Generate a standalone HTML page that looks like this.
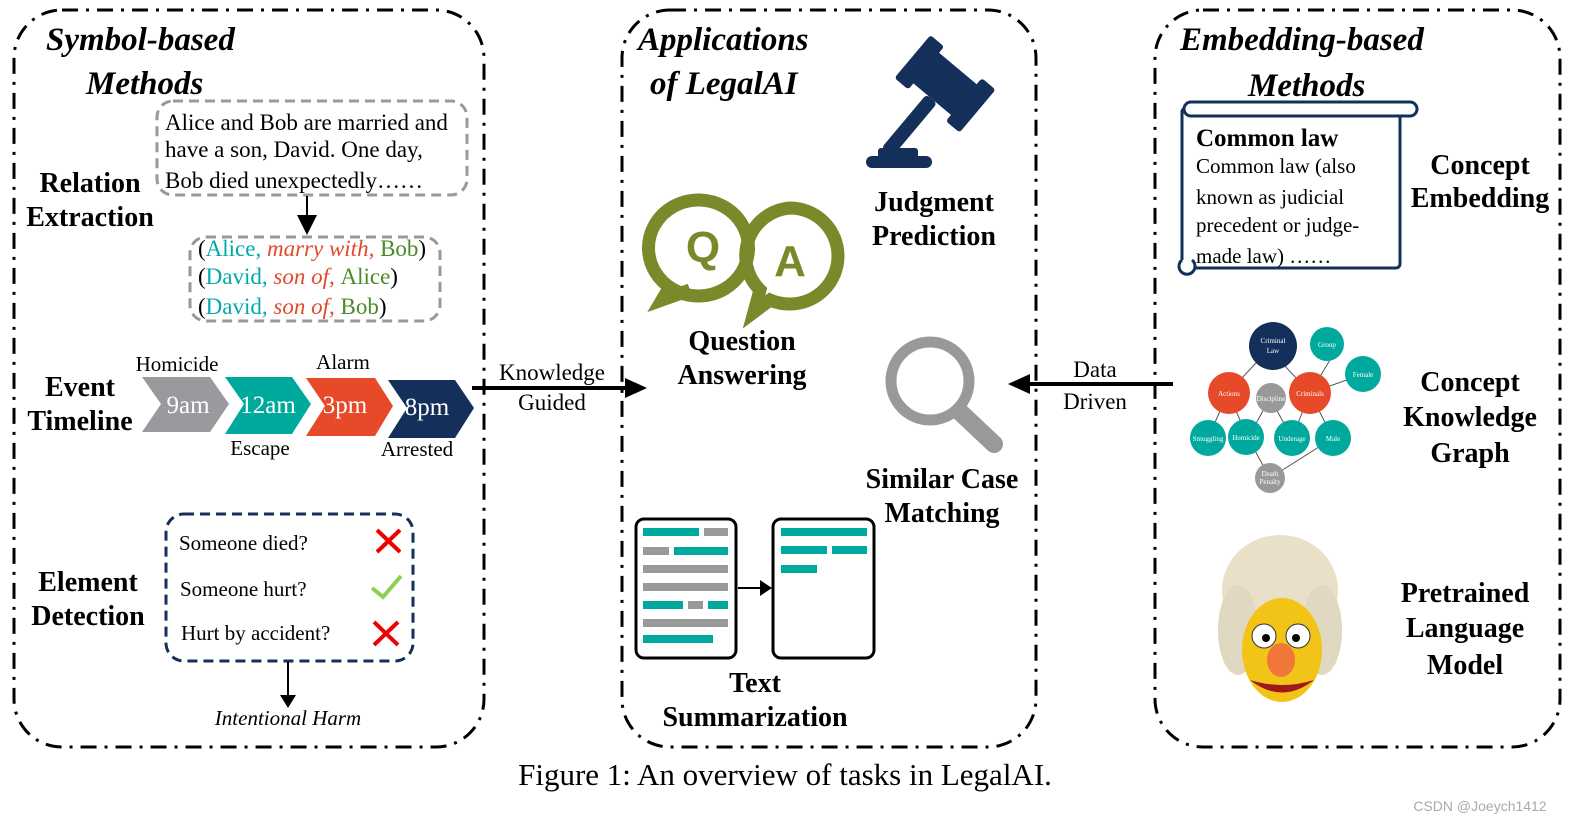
<!DOCTYPE html>
<html><head><meta charset="utf-8"><style>body{margin:0;background:#fff}svg{display:block}</style></head><body>
<svg width="1588" height="834" viewBox="0 0 1588 834" xmlns="http://www.w3.org/2000/svg" font-family="Liberation Serif, serif">
<defs><marker id="ah" markerWidth="10" markerHeight="10" refX="8" refY="5" orient="auto" markerUnits="userSpaceOnUse"><path d="M0,0 L10,5 L0,10z" fill="#000"/></marker></defs>
<g fill="none" stroke="#000" stroke-width="3" stroke-dasharray="16,8,3,8">
<rect x="14" y="10" width="470" height="737" rx="48"/>
<rect x="622" y="10" width="414" height="737" rx="48"/>
<rect x="1155" y="10" width="405" height="737" rx="48"/>
</g>
<!-- Left panel -->
<g font-weight="bold" font-style="italic" font-size="33" fill="#000">
<text x="46" y="50">Symbol-based</text><text x="86" y="94">Methods</text>
<text x="638" y="50">Applications</text><text x="650" y="94">of LegalAI</text>
<text x="1180" y="50">Embedding-based</text><text x="1248" y="96">Methods</text>
</g>
<g font-weight="bold" font-size="28" fill="#000" text-anchor="middle">
<text x="90" y="192">Relation</text><text x="90" y="226">Extraction</text>
<text x="80" y="396">Event</text><text x="80" y="430">Timeline</text>
<text x="88" y="591">Element</text><text x="88" y="625">Detection</text>
<text x="934" y="211">Judgment</text><text x="934" y="245">Prediction</text>
<text x="742" y="350">Question</text><text x="742" y="384">Answering</text>
<text x="942" y="488">Similar Case</text><text x="942" y="522">Matching</text>
<text x="755" y="692">Text</text><text x="755" y="726">Summarization</text>
<text x="1480" y="174">Concept</text><text x="1480" y="207">Embedding</text>
<text x="1470" y="391">Concept</text><text x="1470" y="426">Knowledge</text><text x="1470" y="462">Graph</text>
<text x="1465" y="602">Pretrained</text><text x="1465" y="637">Language</text><text x="1465" y="674">Model</text>
</g>
<rect x="157" y="101" width="310" height="94" rx="16" fill="none" stroke="#999" stroke-width="3" stroke-dasharray="10,6"/>
<g font-size="23" fill="#000"><text x="165" y="130">Alice and Bob are married and</text><text x="165" y="157">have a son, David. One day,</text><text x="165" y="188">Bob died unexpectedly……</text></g>
<line x1="307" y1="196" x2="307" y2="225" stroke="#000" stroke-width="2"/><path d="M297,215 L317,215 L307,235z" fill="#000"/>
<rect x="190" y="237" width="250" height="84" rx="16" fill="none" stroke="#999" stroke-width="3" stroke-dasharray="10,6"/>
<g font-size="23">
<text x="198" y="256"><tspan fill="#000">(</tspan><tspan fill="#0aa">Alice, </tspan><tspan fill="#e04a2a" font-style="italic">marry with, </tspan><tspan fill="#4a8a2a">Bob</tspan><tspan fill="#000">)</tspan></text>
<text x="198" y="284"><tspan fill="#000">(</tspan><tspan fill="#0aa">David, </tspan><tspan fill="#e04a2a" font-style="italic">son of, </tspan><tspan fill="#4a8a2a">Alice</tspan><tspan fill="#000">)</tspan></text>
<text x="198" y="314"><tspan fill="#000">(</tspan><tspan fill="#0aa">David, </tspan><tspan fill="#e04a2a" font-style="italic">son of, </tspan><tspan fill="#4a8a2a">Bob</tspan><tspan fill="#000">)</tspan></text>
</g>
<path d="M142,377 L210,377 L229,404 L210,432 L142,432 L161,404z" fill="#999a9e"/>
<path d="M225,377 L292,377 L311,404 L292,434 L225,434 L244,404z" fill="#00a99d"/>
<path d="M306,378 L375,378 L393,406 L375,436 L306,436 L325,406z" fill="#e64a28"/>
<path d="M388,380 L455,380 L474,408 L455,438 L388,438 L407,408z" fill="#14305a"/>
<g font-size="25" fill="#fff" text-anchor="middle"><text x="188" y="413">9am</text><text x="268" y="413">12am</text><text x="345" y="413">3pm</text><text x="427" y="415">8pm</text></g>
<g font-size="21" fill="#000" text-anchor="middle"><text x="177" y="371">Homicide</text><text x="343" y="369">Alarm</text><text x="260" y="455">Escape</text><text x="417" y="456">Arrested</text></g>
<rect x="166" y="514" width="247" height="147" rx="18" fill="none" stroke="#14305a" stroke-width="3" stroke-dasharray="10,6"/>
<g font-size="21" fill="#000"><text x="179" y="550">Someone died?</text><text x="180" y="596">Someone hurt?</text><text x="181" y="640">Hurt by accident?</text></g>
<g stroke="#e00" stroke-width="4"><path d="M377,530 L400,552 M400,530 L377,552"/><path d="M374,622 L398,645 M398,622 L374,645"/></g>
<path d="M372,588 L383,597 L401,576" stroke="#8cd050" stroke-width="4" fill="none"/>
<line x1="288" y1="662" x2="288" y2="698" stroke="#000" stroke-width="2"/><path d="M280,695 L296,695 L288,708z" fill="#000"/>
<text x="288" y="725" font-size="21" font-style="italic" text-anchor="middle">Intentional Harm</text>
<!-- arrows -->
<line x1="472" y1="388" x2="635" y2="388" stroke="#000" stroke-width="4"/><path d="M625,378 L647,388 L625,398z" fill="#000"/>
<g font-size="23" text-anchor="middle"><text x="552" y="380">Knowledge</text><text x="552" y="410">Guided</text><text x="1095" y="377">Data</text><text x="1095" y="409">Driven</text></g>
<line x1="1173" y1="384" x2="1020" y2="384" stroke="#000" stroke-width="4"/><path d="M1030,374 L1008,384 L1030,394z" fill="#000"/>
<!-- gavel -->
<g fill="#14305a"><g transform="rotate(40 935 95)"><rect x="900" y="60" width="70" height="40" rx="3"/><rect x="893" y="52" width="18" height="56" rx="3"/><rect x="960" y="52" width="18" height="56" rx="3"/><rect x="928" y="100" width="14" height="70" rx="4"/></g>
<rect x="866" y="156" width="66" height="12" rx="6"/><rect x="878" y="148" width="40" height="10" rx="3"/></g>
<!-- QA -->
<g fill="none" stroke="#7a8a2a" stroke-width="13">
<path d="M700,200 a50,48 0 1 1 -3,0z M672,283 L662,300 L690,290"/>
<path d="M790,208 a48,48 0 1 1 0,96 a48,48 0 0 1 -20,-4 L754,312 L760,290 a48,48 0 0 1 30,-82z"/>
</g>
<g fill="#7a8a2a" font-family="Liberation Sans, sans-serif" font-weight="bold" font-size="44" text-anchor="middle"><text x="703" y="262">Q</text><text x="790" y="276">A</text></g>
<!-- magnifier -->
<circle cx="930" cy="381" r="39" fill="none" stroke="#999" stroke-width="11"/>
<line x1="960" y1="412" x2="994" y2="444" stroke="#999" stroke-width="18" stroke-linecap="round"/>
<!-- docs -->
<rect x="636" y="519" width="100" height="139" rx="8" fill="#fff" stroke="#000" stroke-width="3"/>
<rect x="773" y="519" width="101" height="139" rx="8" fill="#fff" stroke="#000" stroke-width="3"/>
<g fill="#00a99d"><rect x="643" y="528" width="56" height="8"/><rect x="674" y="547" width="54" height="8"/><rect x="643" y="601" width="40" height="8"/><rect x="708" y="601" width="20" height="8"/><rect x="643" y="635" width="70" height="8"/><rect x="781" y="528" width="86" height="8"/><rect x="781" y="546" width="46" height="8"/><rect x="832" y="546" width="35" height="8"/><rect x="781" y="565" width="36" height="8"/></g>
<g fill="#999"><rect x="704" y="528" width="24" height="8"/><rect x="643" y="547" width="26" height="8"/><rect x="643" y="565" width="85" height="8"/><rect x="643" y="583" width="85" height="8"/><rect x="688" y="601" width="15" height="8"/><rect x="643" y="619" width="85" height="8"/></g>
<line x1="738" y1="588" x2="762" y2="588" stroke="#000" stroke-width="2"/><path d="M760,580 L772,588 L760,596z" fill="#000"/>
<!-- scroll -->
<g fill="#fff" stroke="#14305a" stroke-width="3">
<rect x="1182" y="108" width="218" height="160" rx="4"/>
<rect x="1184" y="102" width="233" height="14" rx="7"/>
<path d="M1182,260 a8,8 0 1 0 10,0"/>
</g>
<text x="1196" y="146" font-size="25" font-weight="bold">Common law</text>
<g font-size="21"><text x="1196" y="173">Common law (also</text><text x="1196" y="204">known as judicial</text><text x="1196" y="232">precedent or judge-</text><text x="1196" y="263">made law) ……</text></g>
<!-- graph -->
<g stroke="#555" stroke-width="1"><path d="M1268,350 L1228,393 M1270,350 L1310,393 M1330,360 L1310,393 M1358,376 L1310,393 M1228,393 L1208,438 M1228,393 L1248,438 M1270,398 L1248,438 M1270,398 L1292,438 M1310,393 L1292,438 M1310,393 L1333,438 M1248,438 L1270,478 M1333,438 L1270,478"/></g>
<g font-size="7" fill="#fff" text-anchor="middle">
<circle cx="1273" cy="346" r="24" fill="#14305a"/><text x="1273" y="343">Criminal</text><text x="1273" y="353">Law</text>
<circle cx="1327" cy="344" r="17" fill="#00a99d"/><text x="1327" y="347">Group</text>
<circle cx="1363" cy="374" r="18" fill="#00a99d"/><text x="1363" y="377">Female</text>
<circle cx="1229" cy="393" r="21" fill="#e64a28"/><text x="1229" y="396">Actions</text>
<circle cx="1271" cy="398" r="15" fill="#999"/><text x="1271" y="401">Discipline</text>
<circle cx="1310" cy="393" r="21" fill="#e64a28"/><text x="1310" y="396">Criminals</text>
<circle cx="1208" cy="438" r="18" fill="#00a99d"/><text x="1208" y="441">Smuggling</text>
<circle cx="1246" cy="437" r="18" fill="#00a99d"/><text x="1246" y="440">Homicide</text>
<circle cx="1292" cy="438" r="18" fill="#00a99d"/><text x="1292" y="441">Underage</text>
<circle cx="1333" cy="438" r="18" fill="#00a99d"/><text x="1333" y="441">Male</text>
<circle cx="1270" cy="478" r="15" fill="#999"/><text x="1270" y="476">Death</text><text x="1270" y="484">Penalty</text>
</g>
<!-- muppet -->
<ellipse cx="1280" cy="590" rx="58" ry="55" fill="#e8e0c8"/>
<ellipse cx="1238" cy="630" rx="20" ry="45" fill="#e0d8c0"/>
<ellipse cx="1322" cy="630" rx="20" ry="45" fill="#e0d8c0"/>
<ellipse cx="1282" cy="650" rx="40" ry="52" fill="#f2c418"/>
<circle cx="1264" cy="636" r="12" fill="#fff" stroke="#333"/><circle cx="1298" cy="636" r="12" fill="#fff" stroke="#333"/>
<circle cx="1266" cy="638" r="4" fill="#000"/><circle cx="1296" cy="638" r="4" fill="#000"/>
<ellipse cx="1281" cy="660" rx="14" ry="17" fill="#f0763a"/>
<path d="M1250,680 Q1282,705 1314,680 Q1282,690 1250,680z" fill="#a01818"/>
<!-- caption -->
<text x="785" y="785" font-size="31" text-anchor="middle">Figure 1: An overview of tasks in LegalAI.</text>
<text x="1480" y="811" font-size="14" fill="#aaa" text-anchor="middle" font-family="Liberation Sans, sans-serif">CSDN @Joeych1412</text>
</svg>
</body></html>
